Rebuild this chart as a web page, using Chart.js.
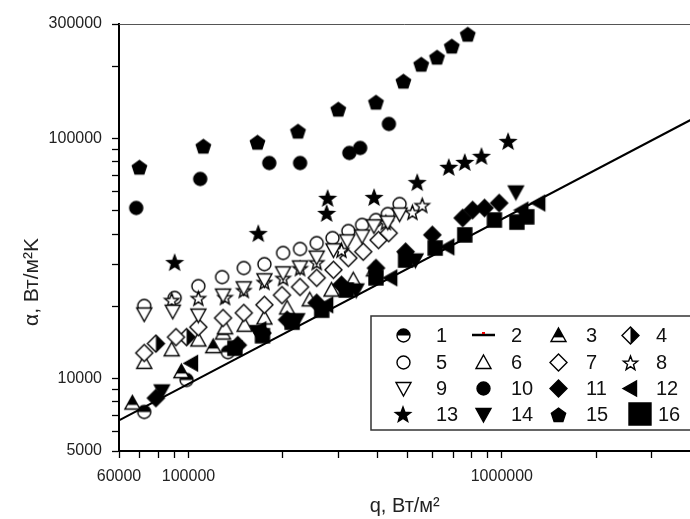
<!DOCTYPE html>
<html>
<head>
<meta charset="utf-8">
<script src="https://cdn.jsdelivr.net/npm/chart.js@4.4.1/dist/chart.umd.min.js"></script>
<style>
  html, body { margin: 0; padding: 0; background: #fff; overflow: hidden; }
  #wrap { width: 700px; height: 519px; }
</style>
</head>
<body>
<div id="wrap"><canvas id="chart" width="700" height="519"></canvas></div>
<script>
// [q, alpha] pairs (q in W/m2, alpha in W/m2K)
const s1 = [[72200, 7270], [98600, 9880], [133600, 12900]];
const s2 = [[60000, 6700], [4000000, 119500]];
const s3 = [[66200, 7920], [94900, 10700], [119900, 13600], [128900, 15500]];
const s4 = [[78700, 14000], [98600, 14900]];
const s5 = [[72200, 20100], [90300, 21700], [107500, 24300], [128000, 26500], [150100, 28900],
            [174700, 30000], [200400, 33400], [226900, 34700], [256600, 36700], [288200, 38500],
            [323600, 41200], [358100, 43700], [396500, 45800], [432400, 48500], [471600, 53400]];
const s6 = [[72200, 11700], [88400, 13200], [107500, 14500], [130800, 16300], [151100, 16700],
            [174700, 17900], [206400, 19700], [243800, 21300], [286100, 23400], [335600, 25800],
            [390700, 28400]];
const s7 = [[72200, 12800], [91200, 14900], [107500, 16400], [128900, 17900], [150100, 18800],
            [174700, 20300], [198700, 22300], [226900, 24100], [256600, 26300], [290200, 28400],
            [323600, 31800], [361000, 33800], [404000, 37800], [435500, 40400]];
const s8 = [[88400, 21300], [107500, 21700], [130800, 21900], [150100, 23400], [174700, 25300],
            [200400, 26300], [226900, 28900], [256600, 30600], [307700, 34400], [426400, 44900],
            [518200, 49500], [557100, 52900]];
const s9 = [[72200, 18600], [89100, 19100], [107500, 18400], [128900, 22300], [150100, 23900],
            [174700, 25800], [200400, 27600], [226900, 29200], [256600, 32100], [290200, 34400],
            [321000, 37500], [358100, 39300], [390700, 43300], [432400, 44900], [471600, 48500]];
const s10 = [[68100, 51400], [109000, 67900], [181000, 79100], [227000, 79100], [326000, 87100],
             [353000, 91400], [436000, 115000]];
const s11 = [[78700, 8310], [143600, 13800], [172200, 15500], [206400, 17600], [256600, 20700],
             [307700, 24600], [396500, 28900], [493000, 33800], [600000, 39700], [750000, 46700],
             [806500, 50400], [880400, 51400], [980600, 53900]];
const s12 = [[102200, 11600], [168800, 16000], [276000, 20300], [442000, 26300], [672000, 35400],
             [1158000, 50400], [1311000, 53900]];
const s13 = [[90300, 30600], [167000, 40400], [276000, 49000], [278000, 56600], [391000, 57100],
             [537000, 65900], [677000, 76200], [761500, 79900], [861000, 84700], [1047000, 97700]];
const s14 = [[82200, 8890], [166000, 15700], [221900, 17600], [343000, 23400], [530000, 31200],
             [1109000, 59900]];
const s15 = [[69700, 76200], [111500, 93200], [166000, 96800], [223500, 107600], [300600, 132900],
             [396500, 142100], [485000, 173800], [553000, 204500], [621000, 218800], [692000, 243300],
             [778000, 272700]];
const s16 = [[140600, 13400], [172200, 15100], [214100, 17200], [266100, 19300], [319000, 23400],
             [396500, 26300], [493000, 31200], [612600, 35000], [761500, 39700], [946700, 45800],
             [1117000, 44900], [1201000, 47200]];

const xTicks = [60000, 70000, 80000, 90000, 100000, 200000, 300000, 400000, 500000, 600000,
                700000, 800000, 900000, 1000000, 2000000, 3000000];
const xLabels = [60000, 100000, 1000000];
const yTicks = [5000, 6000, 7000, 8000, 9000, 10000, 20000, 30000, 40000, 50000, 60000, 70000,
                80000, 90000, 100000, 200000, 300000];
const yLabels = [5000, 10000, 100000, 300000];

const FONT = '"Liberation Sans", Arial, sans-serif';

// marker glyphs drawn once into small canvases
function makeMarker(shape, fill, size) {
  const c = document.createElement('canvas');
  c.width = c.height = size + 4;
  const ctx = c.getContext('2d');
  const m = c.width / 2, r = size / 2;
  const path = () => {
    ctx.beginPath();
    if (shape === 'circle') ctx.arc(m, m, r, 0, Math.PI * 2);
    else if (shape === 'square') ctx.rect(m - r, m - r, size, size);
    else if (shape === 'diamond') { ctx.moveTo(m, m - r); ctx.lineTo(m + r, m); ctx.lineTo(m, m + r); ctx.lineTo(m - r, m); }
    else if (shape === 'triUp') { ctx.moveTo(m, m - r); ctx.lineTo(m + r, m + r * 0.8); ctx.lineTo(m - r, m + r * 0.8); }
    else if (shape === 'triDown') { ctx.moveTo(m, m + r); ctx.lineTo(m + r, m - r * 0.8); ctx.lineTo(m - r, m - r * 0.8); }
    else if (shape === 'triLeft') { ctx.moveTo(m - r, m); ctx.lineTo(m + r * 0.8, m - r); ctx.lineTo(m + r * 0.8, m + r); }
    else if (shape === 'star') {
      for (let i = 0; i < 10; i++) {
        const rr = i % 2 ? r * 0.42 : r, a = -Math.PI / 2 + i * Math.PI / 5;
        ctx.lineTo(m + rr * Math.cos(a), m + 1 + rr * Math.sin(a));
      }
    } else if (shape === 'pentagon') {
      for (let i = 0; i < 5; i++) {
        const a = -Math.PI / 2 + i * 2 * Math.PI / 5;
        ctx.lineTo(m + r * Math.cos(a), m + 1 + r * Math.sin(a));
      }
    }
    ctx.closePath();
  };
  path();
  ctx.fillStyle = fill === 'solid' ? '#000' : '#fff';
  ctx.fill();
  if (fill === 'top' || fill === 'right') {
    ctx.save();
    path();
    ctx.clip();
    ctx.fillStyle = '#000';
    if (fill === 'top') ctx.fillRect(0, 0, c.width, shape === 'triUp' ? m + r * 0.25 : m);
    else ctx.fillRect(m, 0, c.width, c.height);
    ctx.restore();
  }
  path();
  ctx.lineWidth = 1.4;
  ctx.strokeStyle = '#000';
  ctx.stroke();
  return c;
}

const series = [
  { label: '1', data: s1, shape: 'circle', fill: 'top', size: 13 },
  { label: '2', data: s2, line: true },
  { label: '3', data: s3, shape: 'triUp', fill: 'top', size: 15 },
  { label: '4', data: s4, shape: 'diamond', fill: 'right', size: 17 },
  { label: '5', data: s5, shape: 'circle', fill: 'open', size: 13 },
  { label: '6', data: s6, shape: 'triUp', fill: 'open', size: 15 },
  { label: '7', data: s7, shape: 'diamond', fill: 'open', size: 17 },
  { label: '8', data: s8, shape: 'star', fill: 'open', size: 15 },
  { label: '9', data: s9, shape: 'triDown', fill: 'open', size: 15 },
  { label: '10', data: s10, shape: 'circle', fill: 'solid', size: 13 },
  { label: '11', data: s11, shape: 'diamond', fill: 'solid', size: 17 },
  { label: '12', data: s12, shape: 'triLeft', fill: 'solid', size: 15 },
  { label: '13', data: s13, shape: 'star', fill: 'solid', size: 16 },
  { label: '14', data: s14, shape: 'triDown', fill: 'solid', size: 15 },
  { label: '15', data: s15, shape: 'pentagon', fill: 'solid', size: 15 },
  { label: '16', data: s16, shape: 'square', fill: 'solid', size: 14, legendSize: 22 }
];

const datasets = series.map((s, i) => {
  const pts = s.data.map(([x, y]) => ({ x, y }));
  if (s.line) {
    return { label: s.label, data: pts, showLine: true, pointRadius: 0,
             borderColor: '#000', borderWidth: 2, order: -1 };
  }
  s.img = makeMarker(s.shape, s.fill, s.size);
  s.legendImg = s.legendSize ? makeMarker(s.shape, s.fill, s.legendSize) : s.img;
  return { label: s.label, data: pts, pointStyle: s.img, pointRadius: s.size / 2, order: 16 - i };
});

const framePlugin = {
  id: 'frame',
  afterDraw(chart) {
    const ctx = chart.ctx;
    const area = chart.chartArea;
    ctx.save();
    // top frame line
    ctx.strokeStyle = '#555';
    ctx.lineWidth = 1;
    ctx.beginPath();
    ctx.moveTo(area.left, area.top + 0.5);
    ctx.lineTo(area.right, area.top + 0.5);
    ctx.stroke();

    // y axis title
    ctx.fillStyle = '#222';
    ctx.font = '21px ' + FONT;
    ctx.textAlign = 'center';
    ctx.textBaseline = 'middle';
    ctx.translate(32, 282);
    ctx.rotate(-Math.PI / 2);
    ctx.fillText('α, Вт/м²K', 0, 0);
    ctx.restore();

    // boxed legend, 4 x 4
    ctx.save();
    ctx.fillStyle = '#fff';
    ctx.fillRect(371, 316, 340, 114);
    ctx.strokeStyle = '#333';
    ctx.lineWidth = 1.5;
    ctx.strokeRect(371, 316, 340, 114);
    const colMark = [403, 483, 558, 630];
    const colText = [436, 511, 586, 656];
    const rowY = [335, 362, 388, 414];
    ctx.font = '20px ' + FONT;
    ctx.textBaseline = 'middle';
    ctx.textAlign = 'left';
    ctx.fillStyle = '#111';
    series.forEach((s, i) => {
      const col = i % 4, row = Math.floor(i / 4);
      const cx = colMark[col], cy = rowY[row];
      if (s.line) {
        ctx.strokeStyle = '#000';
        ctx.lineWidth = 2.5;
        ctx.beginPath();
        ctx.moveTo(cx - 11, cy);
        ctx.lineTo(cx + 12, cy);
        ctx.stroke();
        ctx.fillStyle = '#e00';
        ctx.fillRect(cx - 1, cy - 3, 3, 2);
        ctx.fillStyle = '#111';
      } else {
        const img = s.legendImg;
        const dx = s.legendSize ? 10 : 0;
        ctx.drawImage(img, Math.round(cx + dx - img.width / 2), Math.round(cy - img.height / 2));
      }
      ctx.fillText(s.label, colText[col] + (s.legendSize ? 2 : 0), cy + 1);
    });
    ctx.restore();
  }
};

const tickFont = { family: FONT, size: 16 };

new Chart(document.getElementById('chart'), {
  type: 'scatter',
  data: { datasets },
  options: {
    responsive: false,
    animation: false,
    events: [],
    layout: { padding: { top: 24, right: 1, left: 0, bottom: 0 } },
    plugins: { legend: { display: false }, tooltip: { enabled: false } },
    scales: {
      x: {
        type: 'logarithmic',
        min: 60000,
        max: 4000000,
        afterBuildTicks: (scale) => { scale.ticks = xTicks.map(v => ({ value: v })); },
        afterFit: (scale) => { scale.height = 68; },
        ticks: {
          autoSkip: false,
          maxRotation: 0,
          padding: 9,
          color: '#222',
          font: tickFont,
          callback: (v) => xLabels.includes(Math.round(v)) ? String(Math.round(v)) : ''
        },
        grid: { drawOnChartArea: false, drawTicks: true, tickLength: 7, tickColor: '#000', tickWidth: 1.3 },
        border: { display: true, color: '#000', width: 2 },
        title: { display: true, text: 'q, Вт/м²', color: '#222',
                 font: { family: FONT, size: 20 }, padding: { top: 0, bottom: 1 } }
      },
      y: {
        type: 'logarithmic',
        min: 5000,
        max: 300000,
        afterBuildTicks: (scale) => { scale.ticks = yTicks.map(v => ({ value: v })); },
        afterFit: (scale) => { scale.width = 119; },
        ticks: {
          autoSkip: false,
          padding: 10,
          color: '#222',
          font: tickFont,
          callback: (v) => yLabels.includes(Math.round(v)) ? String(Math.round(v)) : ''
        },
        grid: { drawOnChartArea: false, drawTicks: true, tickLength: 7, tickColor: '#000', tickWidth: 1.3 },
        border: { display: true, color: '#000', width: 2 }
      }
    }
  },
  plugins: [framePlugin]
});
</script>
</body>
</html>
